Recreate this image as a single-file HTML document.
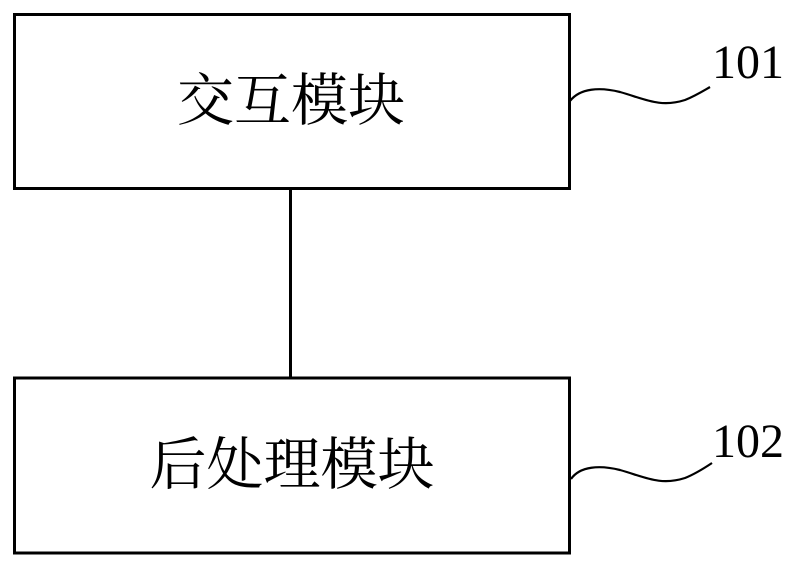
<!DOCTYPE html>
<html><head><meta charset="utf-8"><style>
html,body{margin:0;padding:0;background:#fff;}
</style></head><body>
<svg width="798" height="567" xmlns="http://www.w3.org/2000/svg">
<g fill="none" stroke="#000" stroke-width="3">
<rect x="14.5" y="14.5" width="555" height="174"/>
<rect x="14.5" y="378" width="555" height="175"/>
<line x1="290.5" y1="189" x2="290.5" y2="378"/>
</g>
<g fill="none" stroke="#000" stroke-width="2.2">
<path d="M570,101 C580,88 600,87 620,92 C645,99 660,108 685,100 C695,96 703,91 710,87"/>
<path d="M571,479 C580,466 600,465 620,470 C645,477 660,486 685,478 C695,474 703,469 712,463"/>
</g>
<g font-family="'Liberation Serif','Noto Serif CJK SC',serif" fill="#000">
<text x="291" y="120" font-size="57" text-anchor="middle">交互模块</text>
<text x="292" y="484" font-size="57" text-anchor="middle">后处理模块</text>
<text x="712" y="78" font-size="48">101</text>
<text x="712" y="457" font-size="48">102</text>
</g>
</svg>
</body></html>
